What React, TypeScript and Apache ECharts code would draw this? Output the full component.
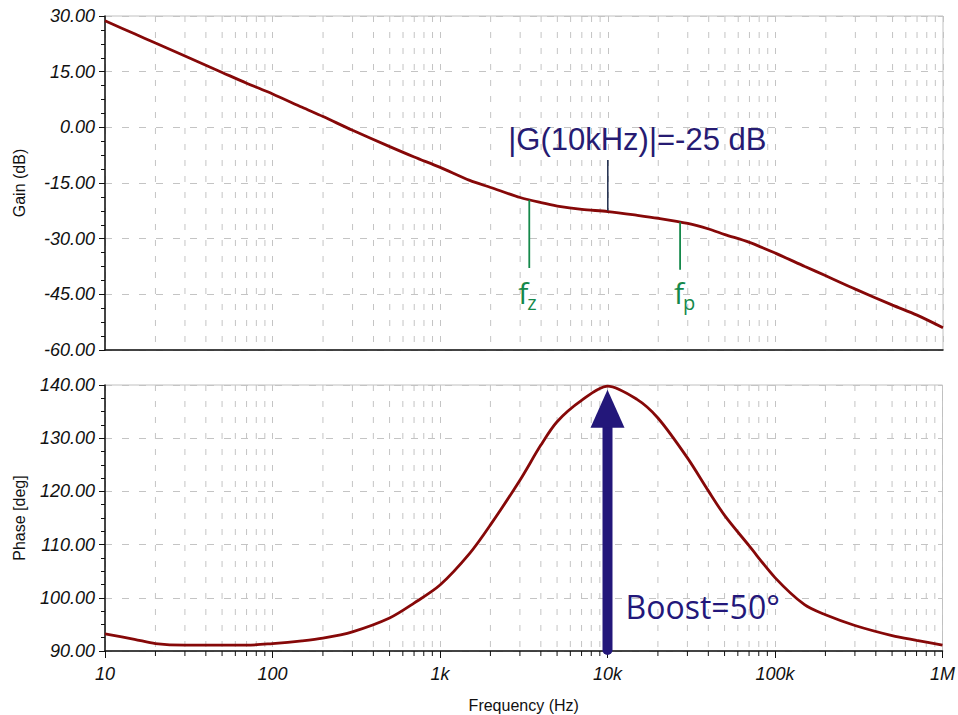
import React, { useEffect, useRef } from "react";
import * as echarts from "echarts";

// ---- data ----
const freqHz = [10, 15, 20, 30, 50, 70, 100, 150, 200, 300, 500, 700, 1000, 1500, 2000, 3000, 4000, 5000, 7000, 10000, 15000, 20000, 30000, 40000, 50000, 70000, 100000, 150000, 200000, 300000, 500000, 700000, 1000000];
const gainDb = [28.7, 25.2, 22.7, 19.2, 14.8, 11.9, 9.0, 5.4, 2.9, -0.8, -5.2, -8.0, -10.8, -14.3, -16.2, -18.9, -20.3, -21.2, -22.1, -22.7, -23.7, -24.5, -25.9, -27.4, -28.9, -31.0, -33.9, -37.5, -40.0, -43.6, -47.9, -50.6, -54.0];
const phaseDeg = [93.2, 92.2, 91.4, 91.1, 91.1, 91.1, 91.4, 91.9, 92.4, 93.6, 96.2, 99.0, 102.4, 108.3, 113.7, 122.1, 128.7, 133.1, 137.1, 139.8, 137.3, 133.8, 126.3, 120.1, 115.5, 109.8, 103.8, 98.7, 96.8, 94.8, 92.9, 92.0, 91.1];

const decadeTicks = [10, 100, 1000, 10000, 100000, 1000000];
const decadeLabels = ["10", "100", "1k", "10k", "100k", "1M"];
const minorMultipliers = [2, 3, 4, 5, 6, 7, 8, 9];

const gainMin = -60, gainMax = 30, gainStep = 15;
const phaseMin = 90, phaseMax = 140, phaseStep = 10;

// annotations
const fzHz = 3400, fpHz = 27000, markHz = 10000;
const gainLabel = "|G(10kHz)|=-25 dB";
const boostLabel = "Boost=50°";

const minorFreqs: number[] = [];
decadeTicks.slice(0, -1).forEach((d) => minorMultipliers.forEach((m) => minorFreqs.push(d * m)));

const AX = "#111";
const GRID = "#c4c4c4";
const CURVE = "#860808";
const NAVY = "#23177a";
const GREEN = "#15894b";
const FONT = "'Liberation Sans', Arial, sans-serif";

function minorSeries(idx: number, yMin: number, yMax: number, ticks: boolean) {
  return {
    type: "custom",
    xAxisIndex: idx,
    yAxisIndex: idx,
    silent: true,
    z: 1,
    clip: false,
    data: minorFreqs.map((f) => [f, yMin]),
    encode: { x: 0, y: 1 },
    renderItem: (_p: any, api: any) => {
      const f = api.value(0);
      const a = api.coord([f, yMax]);
      const b = api.coord([f, yMin]);
      const children: any[] = [
        { type: "line", shape: { x1: a[0], y1: a[1], x2: b[0], y2: b[1] }, style: { stroke: GRID, lineWidth: 1, lineDash: [6, 10] } },
      ];
      if (ticks) {
        children.push({ type: "line", shape: { x1: b[0], y1: b[1], x2: b[0], y2: b[1] + 5 }, style: { stroke: AX, lineWidth: 1 } });
      }
      return { type: "group", children };
    },
  };
}

export default function App() {
  const ref = useRef<HTMLDivElement>(null);
  useEffect(() => {
    if (!ref.current) return;
    const chart = echarts.init(ref.current, undefined, { renderer: "svg" });
    const xLabelFmt = (v: number) => {
      const i = decadeTicks.findIndex((t) => Math.abs(t - v) / t < 1e-6);
      return i >= 0 ? decadeLabels[i] : "";
    };
    const yLabelStyle = { fontFamily: FONT, fontSize: 18, fontStyle: "italic", color: AX, margin: 10 };
    const splitDash = { show: true, lineStyle: { color: GRID, width: 1, type: [7, 10] } };
    const xBase = {
      type: "log",
      logBase: 10,
      min: 10,
      max: 1000000,
      splitLine: { show: true, lineStyle: { color: GRID, width: 1, type: [6, 10] } },
    };
    chart.setOption({
      animation: false,
      backgroundColor: "#ffffff",
      grid: [
        { left: 105, top: 16, width: 838, height: 334, show: true, borderColor: "#c0c0c0", borderWidth: 1 },
        { left: 105, top: 385, width: 838, height: 266, show: true, borderColor: "#c0c0c0", borderWidth: 1 },
      ],
      xAxis: [
        {
          ...xBase,
          gridIndex: 0,
          axisLine: { show: true, onZero: false, lineStyle: { color: AX, width: 1.5 } },
          axisTick: { show: false },
          axisLabel: { show: false },
        },
        {
          ...xBase,
          gridIndex: 1,
          axisLine: { show: true, onZero: false, lineStyle: { color: AX, width: 1.5 } },
          axisTick: { show: true, length: 7, lineStyle: { color: AX } },
          axisLabel: { show: true, formatter: xLabelFmt, fontFamily: FONT, fontSize: 18, fontStyle: "italic", color: AX, margin: 14 },
          name: "Frequency (Hz)",
          nameLocation: "middle",
          nameGap: 46,
          nameTextStyle: { fontFamily: FONT, fontSize: 16, color: AX },
        },
      ],
      yAxis: [
        {
          type: "value",
          gridIndex: 0,
          min: gainMin,
          max: gainMax,
          interval: gainStep,
          axisLine: { show: true, onZero: false, lineStyle: { color: AX, width: 1.5 } },
          axisTick: { show: true, length: 6, lineStyle: { color: AX } },
          minorTick: { show: true, splitNumber: 4, length: 4, lineStyle: { color: AX } },
          axisLabel: { ...yLabelStyle, formatter: (v: number) => v.toFixed(2) },
          splitLine: splitDash,
          name: "Gain (dB)",
          nameLocation: "middle",
          nameGap: 78,
          nameTextStyle: { fontFamily: FONT, fontSize: 16, color: AX },
        },
        {
          type: "value",
          gridIndex: 1,
          min: phaseMin,
          max: phaseMax,
          interval: phaseStep,
          axisLine: { show: true, onZero: false, lineStyle: { color: AX, width: 1.5 } },
          axisTick: { show: true, length: 6, lineStyle: { color: AX } },
          minorTick: { show: true, splitNumber: 4, length: 4, lineStyle: { color: AX } },
          axisLabel: { ...yLabelStyle, formatter: (v: number) => v.toFixed(2) },
          splitLine: splitDash,
          name: "Phase [deg]",
          nameLocation: "middle",
          nameGap: 78,
          nameTextStyle: { fontFamily: FONT, fontSize: 16, color: AX },
        },
      ],
      series: [
        minorSeries(0, gainMin, gainMax, false),
        minorSeries(1, phaseMin, phaseMax, true),
        {
          type: "line",
          xAxisIndex: 0,
          yAxisIndex: 0,
          data: freqHz.map((f, i) => [f, gainDb[i]]),
          showSymbol: false,
          symbol: "none",
          smooth: 0.3,
          lineStyle: { color: CURVE, width: 2.8 },
          z: 5,
        },
        {
          type: "line",
          xAxisIndex: 1,
          yAxisIndex: 1,
          data: freqHz.map((f, i) => [f, phaseDeg[i]]),
          showSymbol: false,
          symbol: "none",
          smooth: 0.3,
          lineStyle: { color: CURVE, width: 2.8 },
          z: 5,
        },
      ],
    });

    const p = (g: number, f: number, v: number) => chart.convertToPixel({ gridIndex: g } as any, [f, v]) as number[];
    const m1 = p(0, markHz, -8.8), m2 = p(0, markHz, -22.5);
    const z1 = p(0, fzHz, -19.6), z2 = p(0, fzHz, -37.9);
    const q1 = p(0, fpHz, -25.6), q2 = p(0, fpHz, -38.4);
    const lbl = p(0, 15000, -3.4);
    const fzL = p(0, fzHz, -44.5);
    const fpL = p(0, fpHz, -44.5);
    const shaftBot = p(1, markHz, 90.2);
    const tip = p(1, markHz, 139.1);
    const boost = p(1, markHz, 98.4);
    const sub = { fontFamily: "'Open Sans', sans-serif", fontSize: 20, fill: GREEN };
    const big = { fontFamily: "'Open Sans', sans-serif", fontSize: 30, fill: GREEN };

    chart.setOption({
      graphic: [
        { type: "line", z: 10, shape: { x1: m1[0], y1: m1[1], x2: m2[0], y2: m2[1] }, style: { stroke: "#1f2d4d", lineWidth: 1.5 } },
        { type: "line", z: 10, shape: { x1: z1[0], y1: z1[1], x2: z2[0], y2: z2[1] }, style: { stroke: GREEN, lineWidth: 1.8 } },
        { type: "line", z: 10, shape: { x1: q1[0], y1: q1[1], x2: q2[0], y2: q2[1] }, style: { stroke: GREEN, lineWidth: 1.8 } },
        {
          type: "text", z: 10, x: lbl[0], y: lbl[1],
          style: { text: gainLabel, fontFamily: FONT, fontSize: 31, fill: "#261b72", align: "center", verticalAlign: "middle" },
        },
        { type: "text", z: 10, x: fzL[0] - 1, y: fzL[1], style: { ...big, text: "f", align: "right", verticalAlign: "middle" } },
        { type: "text", z: 10, x: fzL[0] - 2, y: fzL[1] + 10, style: { ...sub, text: "z", align: "left", verticalAlign: "middle" } },
        { type: "text", z: 10, x: fpL[0] + 4, y: fpL[1], style: { ...big, text: "f", align: "right", verticalAlign: "middle" } },
        { type: "text", z: 10, x: fpL[0] + 3, y: fpL[1] + 10, style: { ...sub, text: "p", align: "left", verticalAlign: "middle" } },
        {
          type: "line", z: 10,
          shape: { x1: shaftBot[0], y1: shaftBot[1], x2: tip[0], y2: tip[1] + 30 },
          style: { stroke: NAVY, lineWidth: 10, lineCap: "round" },
        },
        {
          type: "polygon", z: 11,
          shape: { points: [[tip[0], tip[1]], [tip[0] - 17, tip[1] + 38], [tip[0] + 17, tip[1] + 38]] },
          style: { fill: NAVY },
        },
        {
          type: "text", z: 10, x: boost[0] + 18, y: boost[1],
          style: { text: boostLabel, fontFamily: "'Open Sans', sans-serif", fontSize: 32, fill: NAVY, align: "left", verticalAlign: "middle" },
        },
      ],
    });

    return () => chart.dispose();
  }, []);
  return <div ref={ref} style={{ position: "absolute", left: 0, top: 0, width: 958, height: 715 }} />;
}
